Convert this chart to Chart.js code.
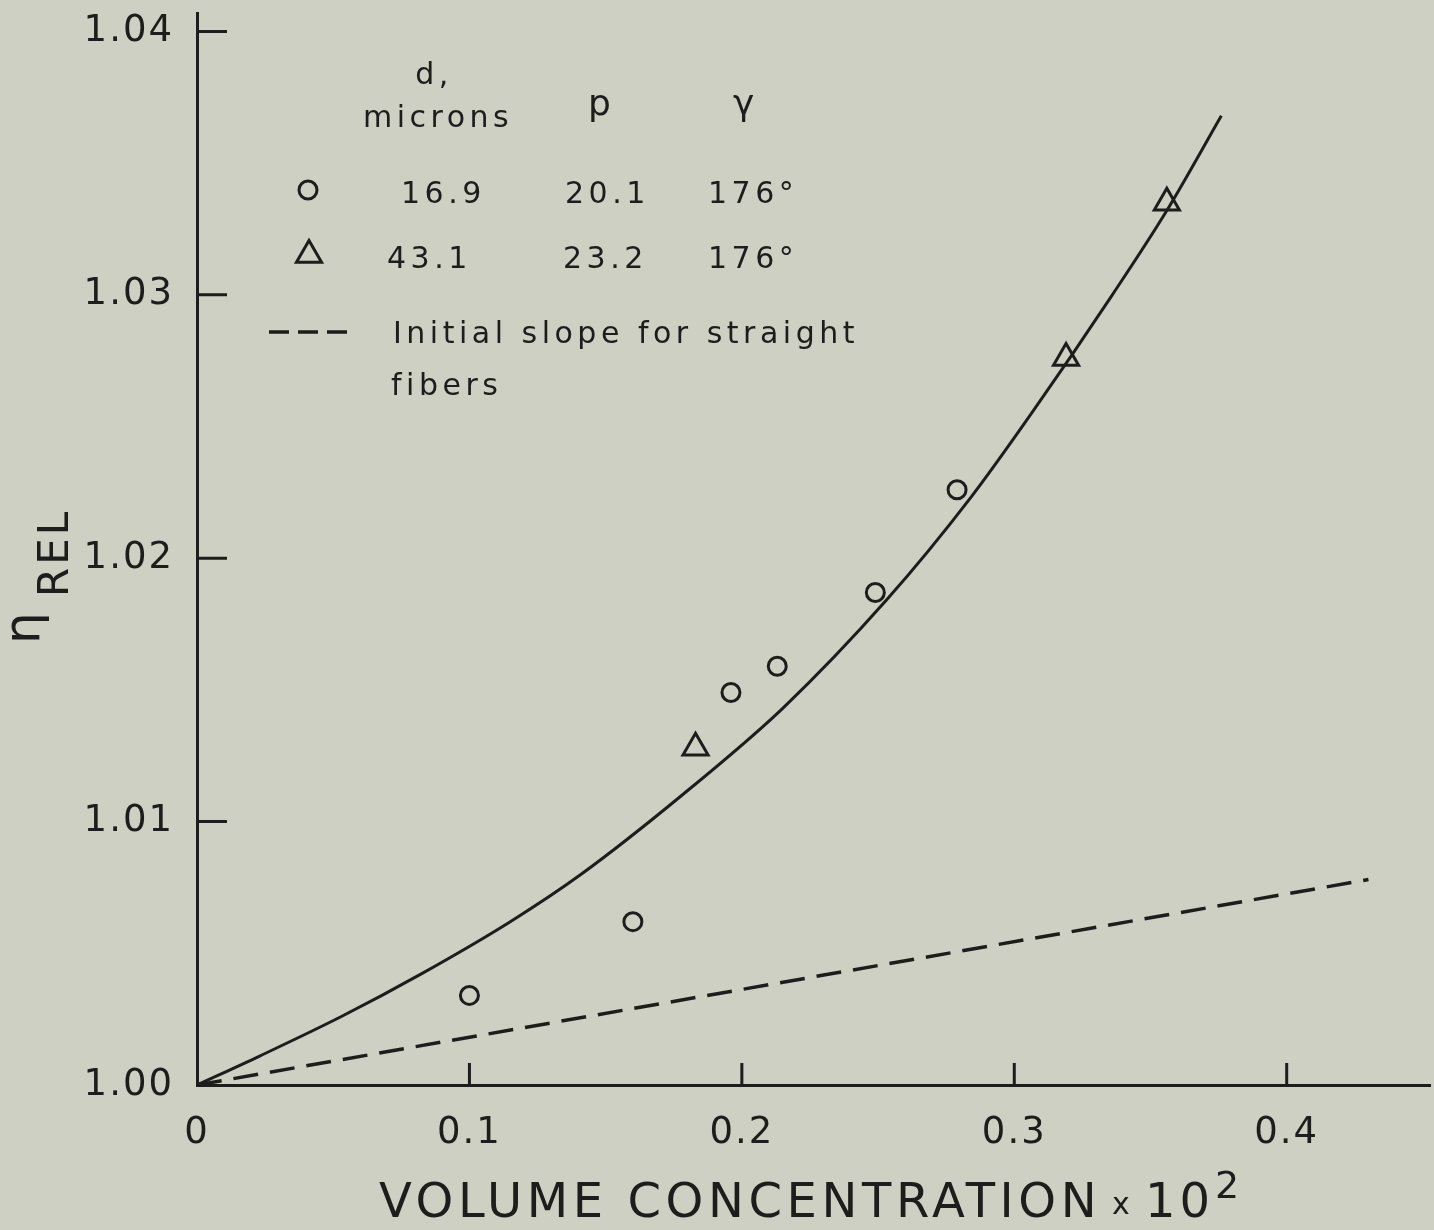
<!DOCTYPE html>
<html>
<head>
<meta charset="utf-8">
<title>Relative viscosity of fiber suspensions</title>
<script src="https://cdn.jsdelivr.net/npm/chart.js@4.4.1/dist/chart.umd.min.js"></script>
<style>
  html, body { margin: 0; padding: 0; background: #cfd0c4; overflow: hidden; }
  #viscosidad { display: block; }
</style>
</head>
<body>
<canvas id="viscosidad" width="1434" height="1230"></canvas>
<script>
// axis ticks
const xTicks = [0, 0.1, 0.2, 0.3, 0.4];
const yTicks = [1.00, 1.01, 1.02, 1.03, 1.04];

// d = 16.9 microns (circles)
const circX = [0.100, 0.160, 0.196, 0.213, 0.249, 0.279];
const circY = [1.0034, 1.0062, 1.0149, 1.0159, 1.0187, 1.0226];

// d = 43.1 microns (triangles)
const triX = [0.183, 0.319, 0.356];
const triY = [1.0128, 1.0276, 1.0335];

// fitted curve
const curveX = [0, 0.023, 0.053, 0.082, 0.115, 0.141, 0.178, 0.215, 0.253, 0.284, 0.307, 0.336, 0.356, 0.376];
const curveY = [1.0000, 1.0011, 1.0026, 1.0042, 1.0062, 1.0080, 1.0110, 1.0143, 1.0184, 1.0223, 1.0256, 1.0300, 1.0332, 1.0368];

// initial slope for straight fibers (dashed)
const slopeX = [0, 0.430];
const slopeY = [1.0000, 1.0078];

// legend table
const legendHead = ['d,', 'microns', 'p', 'γ'];
const legendRows = [
    ['16.9', '20.1', '176°'],
    ['43.1', '23.2', '176°']
];
const legendLine = ['Initial slope for straight', 'fibers'];

const ink = '#1d1d1b';
const fuente = '"DejaVu Sans", sans-serif';

const puntos = (xs, ys) => xs.map((x, i) => ({ x: x, y: ys[i] }));

// ticks drawn pointing into the plot
const ticksInternos = {
    id: 'ticksInternos',
    afterDraw(chart) {
        const { ctx, scales: { x, y } } = chart;
        ctx.save();
        ctx.strokeStyle = ink;
        ctx.lineWidth = 3;
        ctx.beginPath();
        yTicks.slice(1).forEach(v => {
            const py = y.getPixelForValue(v);
            ctx.moveTo(x.left, py);
            ctx.lineTo(x.left + 30, py);
        });
        xTicks.slice(1).forEach(v => {
            const px = x.getPixelForValue(v);
            ctx.moveTo(px, y.bottom);
            ctx.lineTo(px, y.bottom - 22);
        });
        ctx.stroke();
        ctx.restore();
    }
};

// axis titles: eta_REL and VOLUME CONCENTRATION x 10^2
const titulos = {
    id: 'titulos',
    afterDraw(chart) {
        const ctx = chart.ctx;
        ctx.save();
        ctx.fillStyle = ink;
        ctx.textAlign = 'left';
        ctx.textBaseline = 'alphabetic';

        ctx.save();
        ctx.rotate(-Math.PI / 2);
        ctx.letterSpacing = '0px';
        ctx.font = '50px ' + fuente;
        ctx.fillText('η', -644, 39);
        ctx.letterSpacing = '3px';
        ctx.font = '42px ' + fuente;
        ctx.fillText('REL', -597, 68);
        ctx.restore();

        ctx.letterSpacing = '4.6px';
        ctx.font = '48px ' + fuente;
        ctx.fillText('VOLUME CONCENTRATION', 379, 1217);
        ctx.letterSpacing = '0px';
        ctx.font = '30px ' + fuente;
        ctx.fillText('x', 1112, 1214);
        ctx.letterSpacing = '4px';
        ctx.font = '48px ' + fuente;
        ctx.fillText('10', 1145, 1217);
        ctx.font = '38px ' + fuente;
        ctx.fillText('2', 1215, 1198);
        ctx.restore();
    }
};

// legend drawn as a small table
const leyenda = {
    id: 'leyenda',
    afterDraw(chart) {
        const ctx = chart.ctx;
        ctx.save();
        ctx.fillStyle = ink;
        ctx.strokeStyle = ink;
        ctx.font = '30px ' + fuente;
        ctx.letterSpacing = '4.5px';
        ctx.textBaseline = 'alphabetic';

        ctx.textAlign = 'center';
        ctx.fillText(legendHead[0], 434, 84);
        ctx.textAlign = 'left';
        ctx.fillText(legendHead[1], 363, 127);
        ctx.font = '36px ' + fuente;
        ctx.fillText(legendHead[2], 588, 115);
        ctx.fillText(legendHead[3], 733, 115);
        ctx.font = '30px ' + fuente;

        const colX = [[401, 565, 708], [387, 563, 708]];
        const filaY = [203, 268];
        legendRows.forEach((fila, r) => {
            fila.forEach((txt, c) => ctx.fillText(txt, colX[r][c], filaY[r]));
        });

        // markers
        ctx.lineWidth = 3;
        ctx.beginPath();
        ctx.arc(308, 190, 9, 0, Math.PI * 2);
        ctx.stroke();
        const r = 14.5;
        ctx.beginPath();
        ctx.moveTo(309, 255 - r);
        ctx.lineTo(309 + r * Math.sin(2 * Math.PI / 3), 255 + r / 2);
        ctx.lineTo(309 - r * Math.sin(2 * Math.PI / 3), 255 + r / 2);
        ctx.closePath();
        ctx.stroke();

        ctx.lineWidth = 3.5;
        ctx.setLineDash([20, 9]);
        ctx.beginPath();
        ctx.moveTo(269, 332);
        ctx.lineTo(347, 332);
        ctx.stroke();
        ctx.setLineDash([]);

        ctx.fillText(legendLine[0], 393, 343);
        ctx.fillText(legendLine[1], 391, 395);
        ctx.restore();
    }
};

// wider spacing for the tick labels
const espaciado = {
    id: 'espaciado',
    beforeDraw(chart) { chart.ctx.letterSpacing = '2px'; }
};

new Chart(document.getElementById('viscosidad'), {
    type: 'scatter',
    data: {
        datasets: [
            {
                label: 'curve',
                data: puntos(curveX, curveY),
                showLine: true,
                borderColor: ink,
                borderWidth: 3,
                pointRadius: 0,
                cubicInterpolationMode: 'monotone'
            },
            {
                label: 'Initial slope for straight fibers',
                data: puntos(slopeX, slopeY),
                showLine: true,
                borderColor: ink,
                borderWidth: 3.5,
                borderDash: [25, 12],
                pointRadius: 0
            },
            {
                label: '16.9',
                data: puntos(circX, circY),
                pointStyle: 'circle',
                pointRadius: 9,
                borderWidth: 3,
                borderColor: ink,
                backgroundColor: 'rgba(0,0,0,0)'
            },
            {
                label: '43.1',
                data: puntos(triX, triY),
                pointStyle: 'triangle',
                pointRadius: 14.5,
                borderWidth: 3,
                borderColor: ink,
                backgroundColor: 'rgba(0,0,0,0)'
            }
        ]
    },
    options: {
        responsive: false,
        animation: false,
        layout: {
            autoPadding: false,
            padding: { top: 13, right: 4, left: 0, bottom: 0 }
        },
        plugins: {
            legend: { display: false },
            tooltip: { enabled: false }
        },
        scales: {
            x: {
                type: 'linear',
                min: 0,
                max: 0.4526,
                grid: { display: false, drawTicks: false },
                border: { display: true, color: ink, width: 3 },
                afterBuildTicks: s => { s.ticks = xTicks.map(v => ({ value: v })); },
                afterFit: s => {
                    s.height = 145;
                    s.paddingLeft = 0;
                    s.paddingRight = 0;
                },
                ticks: {
                    color: ink,
                    padding: 26,
                    maxRotation: 0,
                    font: { family: 'DejaVu Sans', size: 37 },
                    callback: v => v === 0 ? '0' : v.toFixed(1)
                }
            },
            y: {
                type: 'linear',
                min: 1.00,
                max: 1.0407,
                grid: { display: false, drawTicks: false },
                border: { display: true, color: ink, width: 3 },
                afterBuildTicks: s => { s.ticks = yTicks.map(v => ({ value: v })); },
                afterFit: s => {
                    s.width = 197;
                    s.paddingTop = 0;
                    s.paddingBottom = 0;
                },
                ticks: {
                    color: ink,
                    padding: 23,
                    font: { family: 'DejaVu Sans', size: 37 },
                    callback: v => v.toFixed(2)
                }
            }
        }
    },
    plugins: [espaciado, ticksInternos, titulos, leyenda]
});
</script>
</body>
</html>
